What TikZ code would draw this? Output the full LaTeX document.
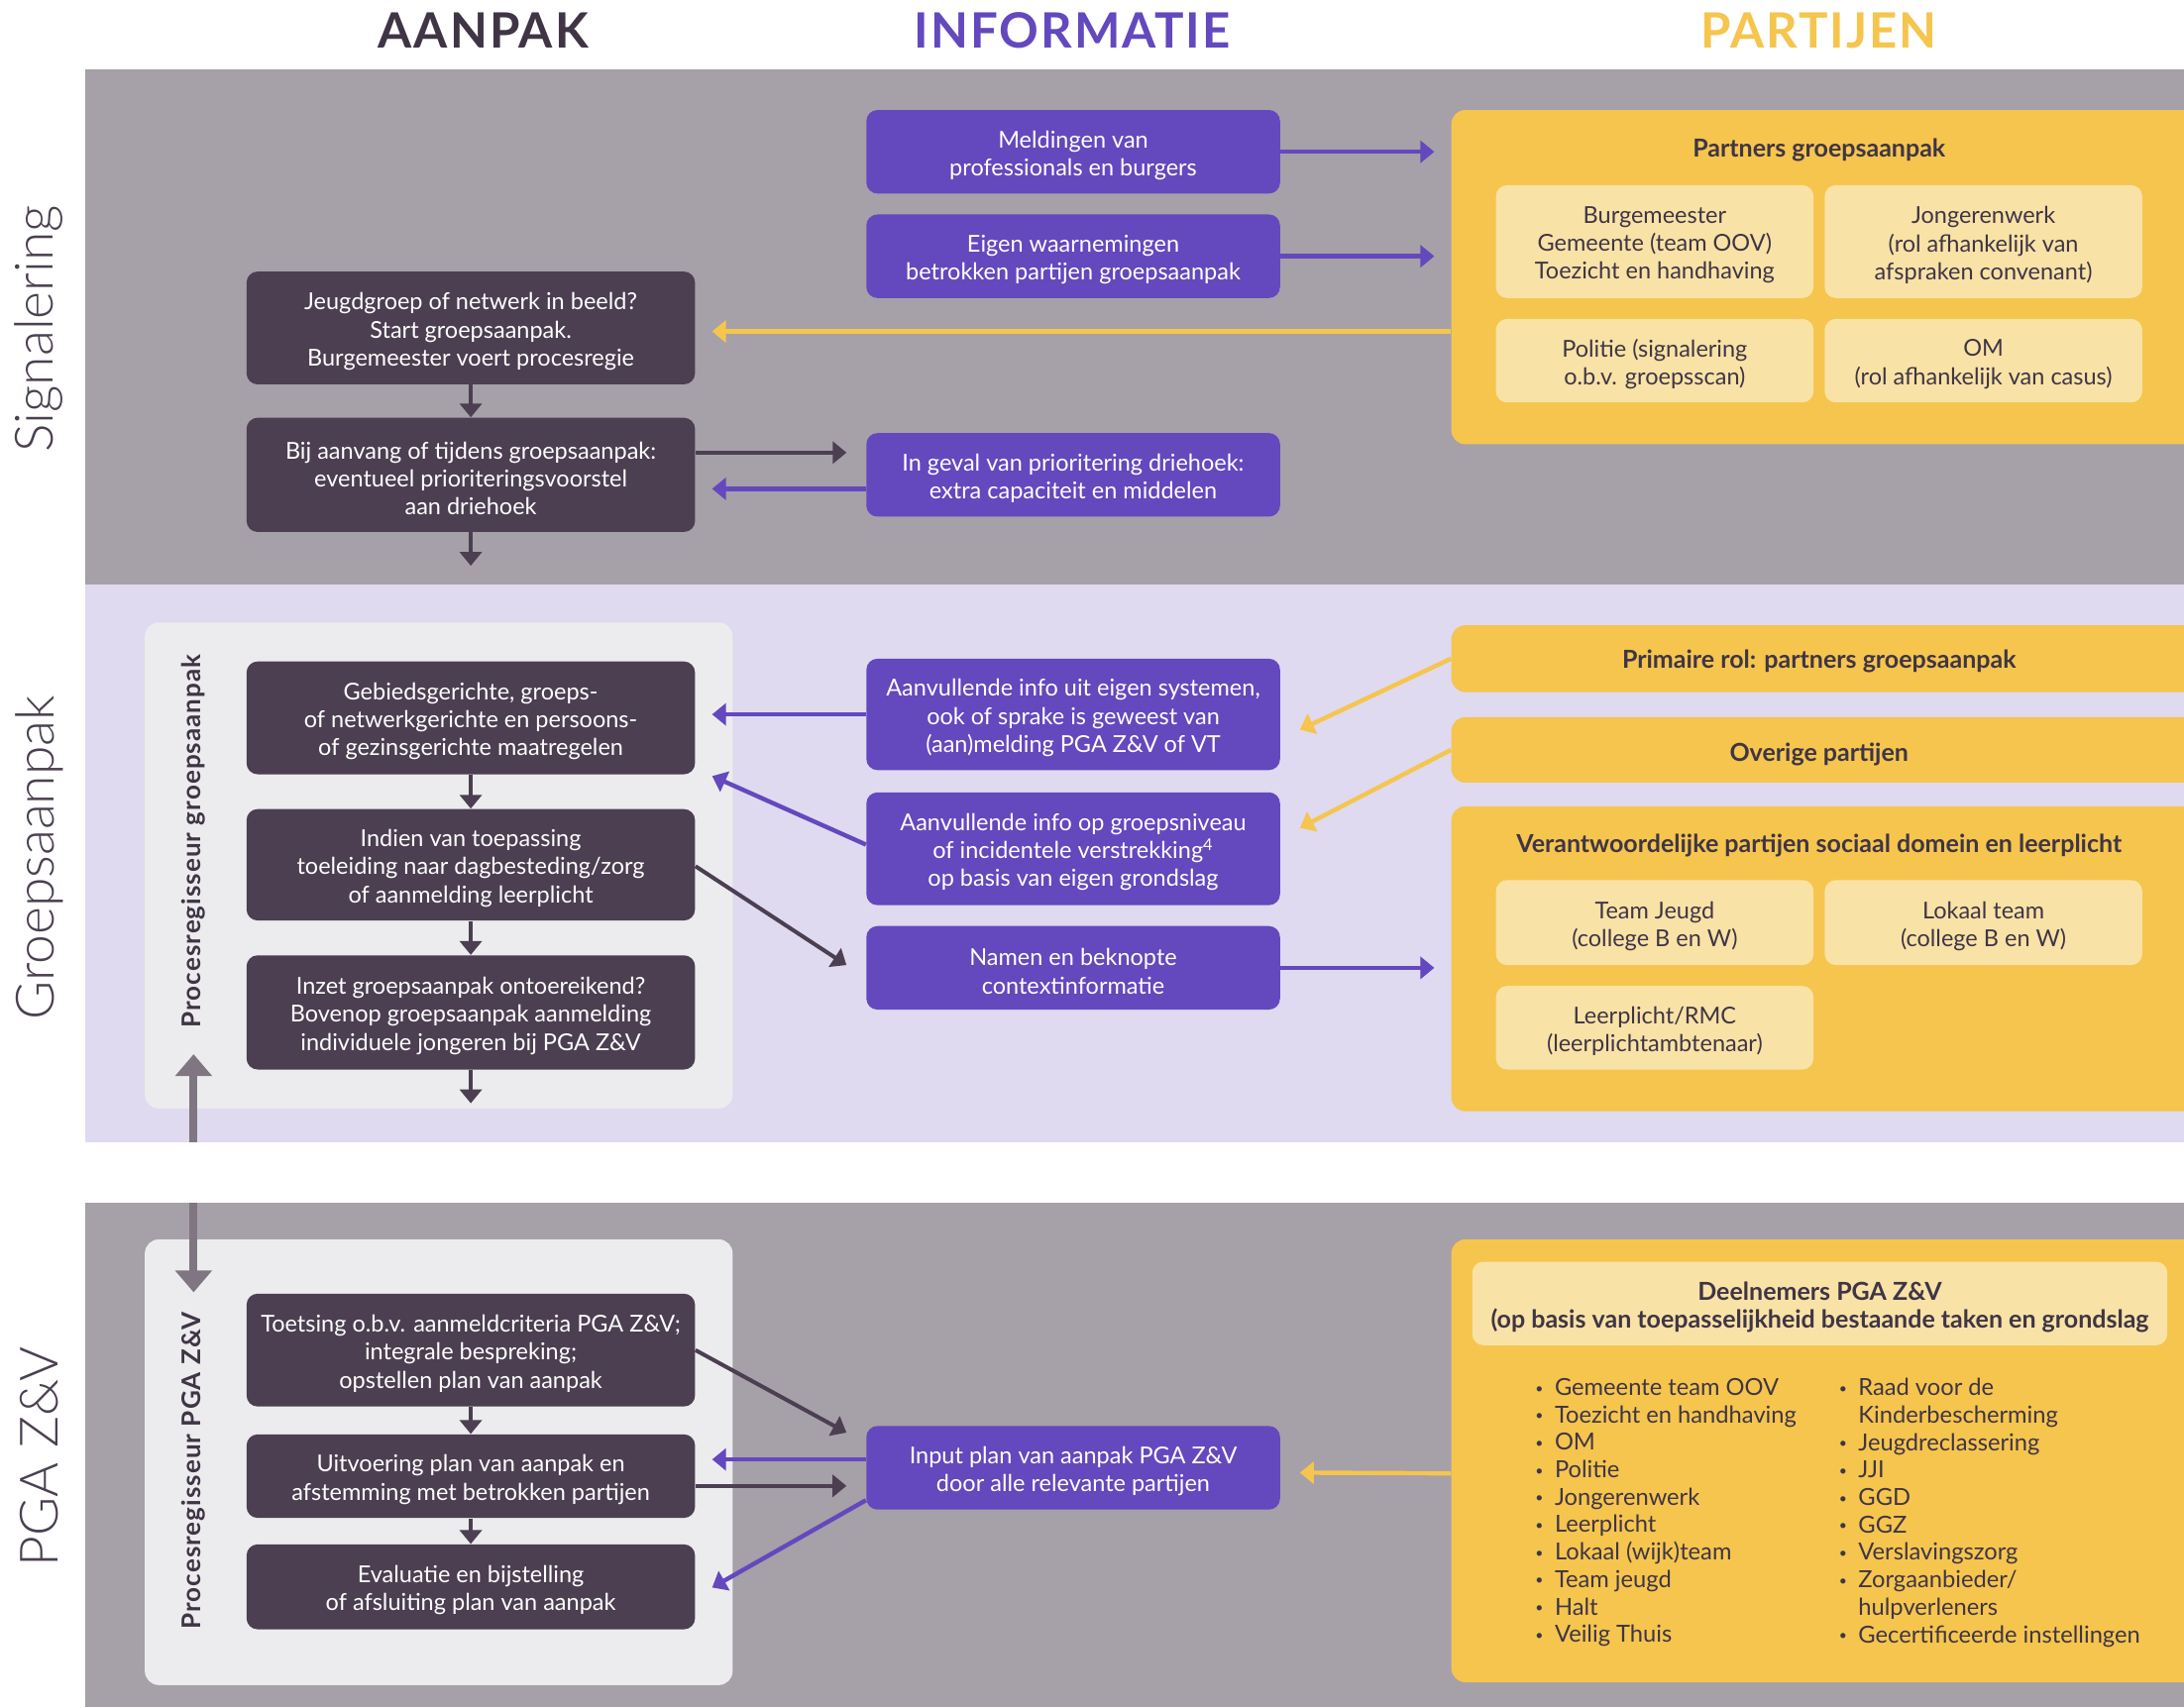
\documentclass[tikz,border=0pt]{standalone}
\usepackage{fontspec}
\setmainfont{Lato}
\newfontfamily\hdrfont[LetterSpace=4]{Lato}
\newfontfamily\sidefont{Lato Light}
\newfontfamily\procfont[LetterSpace=4]{Lato}
\usetikzlibrary{arrows.meta,calc}
\definecolor{darktxt}{HTML}{3F3545}
\definecolor{sidetxt}{HTML}{4A4050}
\definecolor{darkbox}{HTML}{4B3F51}
\definecolor{purp}{HTML}{6448BE}
\definecolor{yel}{HTML}{F5C54E}
\definecolor{lyel}{HTML}{F9E2A6}
\definecolor{bandgrey}{HTML}{A6A0A8}
\definecolor{lav}{HTML}{DFDAF0}
\definecolor{contgrey}{HTML}{ECECEE}
\definecolor{garrow}{HTML}{7F7682}
\newcommand\bxfont{\fontsize{11.75pt}{14.06pt}\selectfont}
\newcommand\titfont{\fontsize{12.5pt}{14.06pt}\selectfont\bfseries}
\newcommand\mybox[7]{\node[#1, minimum width={(#5-#3)*0.7028pt}, minimum height={(#6-#4)*0.7028pt}] (#2) at ({(#3+#5)/2},{(#4+#6)/2}) {};
 \node[#1, fill=none, minimum width=0pt, minimum height=0pt] (#2t) at ({(#3+#5)/2},{(#4+#6)/2+2.5}) {#7};}
\newcommand\bl{\makebox[9.8pt][l]{\raisebox{1.2pt}{\fontsize{7pt}{7pt}\selectfont\textbullet}}}
\begin{document}
\begin{tikzpicture}[x=0.7028pt,y=-0.7028pt,
 dbox/.style={fill=darkbox,text=white,rounded corners=5.6pt,inner sep=0pt,align=center,font=\bxfont},
 pbox/.style={fill=purp,text=white,rounded corners=5.6pt,inner sep=0pt,align=center,font=\bxfont},
 ypanel/.style={fill=yel,rounded corners=7pt,inner sep=0pt},
 lybox/.style={fill=lyel,text=darktxt,rounded corners=5.6pt,inner sep=0pt,align=center,font=\bxfont},
 ltbox/.style={fill=lyel,text=darktxt,rounded corners=5.6pt,inner sep=0pt,align=center,font=\titfont},
 ytitle/.style={text=darktxt,font=\titfont,inner sep=0pt,align=center},
 cbox/.style={fill=contgrey,rounded corners=7pt,inner sep=0pt},
 darr/.style={draw=darkbox,line width=2pt,-{Triangle[length=7pt,width=11pt]}},
 parr/.style={draw=purp,line width=2.2pt,-{Triangle[length=7pt,width=11pt]}},
 yarr/.style={draw=yel,line width=2.2pt,-{Triangle[length=7pt,width=11pt]}},
 garr/.style={draw=garrow,line width=4pt,-{Triangle[length=11pt,width=18pt]}},
 hdr/.style={font=\hdrfont\bfseries\fontsize{24.6pt}{28pt}\selectfont,inner sep=0pt},
 side/.style={font=\sidefont\fontsize{26.7pt}{30pt}\selectfont,text=sidetxt,rotate=90,inner sep=0pt},
 proc/.style={font=\procfont\bfseries\fontsize{13pt}{14pt}\selectfont,text=darktxt,rotate=90,inner sep=0pt},
 blist/.style={font=\fontsize{11.85pt}{13.85pt}\selectfont,text=darktxt,align=left,inner sep=0pt,anchor=north west},
]
\useasboundingbox (0,0) rectangle (1568,1225.8);
% bands
\fill[bandgrey] (61,50) rectangle (1568,420);
\fill[lav] (61,420) rectangle (1568,820);
\fill[bandgrey] (61,864) rectangle (1568,1226);
% headers
\node[hdr,text=darktxt] (hA) at (347,22) {AANPAK};
\node[hdr,text=purp] (hI) at (770,22) {INFORMATIE};
\node[hdr,text=yel] (hP) at (1306,22) {PARTIJEN};
% side labels
\node[side] (sS) at (28,236) {Signalering};
\node[side] (sG) at (28,616) {Groepsaanpak};
\node[side] (sP) at (28,1046) {PGA Z\&V};

% ===== Signalering =====
\mybox{pbox}{P1}{622}{79}{919}{139}{Meldingen van\\professionals en burgers}
\mybox{pbox}{P2}{622}{154}{919}{214}{Eigen waarnemingen\\betrokken partijen groepsaanpak}
\mybox{pbox}{P3}{622}{311}{919}{371}{In geval van prioritering driehoek:\\extra capaciteit en middelen}
\mybox{dbox}{D1}{177}{195}{499}{276}{Jeugdgroep of netwerk in beeld?\\Start groepsaanpak.\\Burgemeester voert procesregie}
\mybox{dbox}{D2}{177}{300}{499}{382}{Bij aanvang of tijdens groepsaanpak:\\eventueel prioriteringsvoorstel\\aan driehoek}
\mybox{ypanel}{Y1}{1042}{79}{1590}{319}{}
\node[ytitle] (Y1t) at (1306,107.5) {Partners groepsaanpak};
\mybox{lybox}{S1}{1074}{133}{1302}{214}{Burgemeester\\Gemeente (team OOV)\\Toezicht en handhaving}
\mybox{lybox}{S2}{1310}{133}{1538}{214}{Jongerenwerk\\(rol afhankelijk van\\afspraken convenant)}
\mybox{lybox}{S3}{1074}{229}{1302}{289}{Politie (signalering\\o.b.v. groepsscan)}
\mybox{lybox}{S4}{1310}{229}{1538}{289}{OM\\(rol afhankelijk van casus)}

\draw[parr, shorten >=8.4pt] (P1.east) -- (P1.east -| Y1.west);
\draw[parr, shorten >=8.4pt] (P2.east) -- (P2.east -| Y1.west);
\draw[yarr, shorten >=8.4pt] ($(Y1.west |- D1.east)+(0,2.5)$) -- ($(D1.east)+(0,2.5)$);
\draw[darr] (D1.south) -- (D2.north);
\draw[darr] (D2.south) -- ++(0,24);
\draw[darr, shorten >=9.8pt] ($(D2.east)+(0,-16)$) -- ($(P3.west)+(0,-16)$);
\draw[parr, shorten >=8.4pt] ($(P3.west)+(0,10)$) -- ($(D2.east)+(0,10)$);

% ===== Groepsaanpak =====
\mybox{cbox}{C1}{104}{447}{526}{796}{}
\node[proc] (C1t) at (139,604) {Procesregisseur groepsaanpak};
\mybox{dbox}{D3}{177}{475}{499}{556}{Gebiedsgerichte, groeps-\\of netwerkgerichte en persoons-\\of gezinsgerichte maatregelen}
\mybox{dbox}{D4}{177}{581}{499}{661}{Indien van toepassing\\toeleiding naar dagbesteding/zorg\\of aanmelding leerplicht}
\mybox{dbox}{D5}{177}{686}{499}{768}{Inzet groepsaanpak ontoereikend?\\Bovenop groepsaanpak aanmelding\\individuele jongeren bij PGA Z\&V}
\mybox{pbox}{P4}{622}{473}{919}{553}{Aanvullende info uit eigen systemen,\\ook of sprake is geweest van\\(aan)melding PGA Z\&V of VT}
\mybox{pbox}{P5}{622}{569}{919}{650}{Aanvullende info op groepsniveau\\of incidentele verstrekking\textsuperscript{4}\\op basis van eigen grondslag}
\mybox{pbox}{P6}{622}{665}{919}{725}{Namen en beknopte\\contextinformatie}
\mybox{ypanel}{Y2}{1042}{449}{1590}{497}{}
\node[ytitle] (Y2t) at (1306,475) {Primaire rol: partners groepsaanpak};
\mybox{ypanel}{Y3}{1042}{515}{1590}{562}{}
\node[ytitle] (Y3t) at (1306,541.5) {Overige partijen};
\mybox{ypanel}{Y4}{1042}{579}{1590}{798}{}
\node[ytitle] (Y4t) at (1306,607.5) {Verantwoordelijke partijen sociaal domein en leerplicht};
\mybox{lybox}{S5}{1074}{632}{1302}{693}{Team Jeugd\\(college B en W)}
\mybox{lybox}{S6}{1310}{632}{1538}{693}{Lokaal team\\(college B en W)}
\mybox{lybox}{S7}{1074}{708}{1302}{768}{Leerplicht/RMC\\(leerplichtambtenaar)}

\draw[darr] (D3.south) -- (D4.north);
\draw[darr] (D4.south) -- (D5.north);
\draw[darr] (D5.south) -- ++(0,24);
\draw[parr, shorten >=8.4pt] (P4.west) -- (P4.west -| D3.east);
\draw[parr] ($(P5.west)+(0,-3)$) -- ($(D3.south east)+(12,1)$);
\draw[darr] ($(D4.east)+(0,1)$) -- ($(P6.west)+(-14,-2)$);
\draw[parr, shorten >=8.4pt] (P6.east) -- (P6.east -| Y4.west);
\draw[yarr] (Y2.west) -- ($(P4.east)+(14,11)$);
\draw[yarr] (Y3.west) -- ($(P5.east)+(14,-15)$);

% ===== PGA Z&V =====
\mybox{cbox}{C2}{104}{890}{526}{1210}{}
\node[proc] (C2t) at (139,1056) {Procesregisseur PGA Z\&V};
\mybox{dbox}{D6}{177}{929}{499}{1010}{Toetsing o.b.v. aanmeldcriteria PGA Z\&V;\\integrale bespreking;\\opstellen plan van aanpak}
\mybox{dbox}{D7}{177}{1030}{499}{1090}{Uitvoering plan van aanpak en\\afstemming met betrokken partijen}
\mybox{dbox}{D8}{177}{1109}{499}{1170}{Evaluatie en bijstelling\\of afsluiting plan van aanpak}
\mybox{pbox}{P7}{622}{1024}{919}{1084}{Input plan van aanpak PGA Z\&V\\door alle relevante partijen}
\mybox{ypanel}{Y5}{1042}{890}{1590}{1208}{}
\mybox{ltbox}{S8}{1057}{906}{1556}{966}{Deelnemers PGA Z\&V\\(op basis van toepasselijkheid bestaande taken en grondslag}
\node[blist] (L1) at (1102,989.5) {\bl Gemeente team OOV\\\bl Toezicht en handhaving\\\bl OM\\\bl Politie\\\bl Jongerenwerk\\\bl Leerplicht\\\bl Lokaal (wijk)team\\\bl Team jeugd\\\bl Halt\\\bl Veilig Thuis};
\node[blist] (L2) at (1320,989.5) {\bl Raad voor de\\\hspace*{9.8pt}Kinderbescherming\\\bl Jeugdreclassering\\\bl JJI\\\bl GGD\\\bl GGZ\\\bl Verslavingszorg\\\bl Zorgaanbieder/\\\hspace*{9.8pt}hulpverleners\\\bl Gecertificeerde instellingen};

\draw[darr] (D6.south) -- (D7.north);
\draw[darr] (D7.south) -- (D8.north);
\draw[darr] (D6.east) -- ($(P7.north west)+(-14,5)$);
\draw[parr] ($(P7.west)+(0,-6)$) -- ($(D7.east)+(12,-12)$);
\draw[darr] ($(D7.east)+(0,7)$) -- ($(P7.west)+(-14,13)$);
\draw[parr] ($(P7.south west)+(0,-7)$) -- ($(D8.east)+(12,0.5)$);
\draw[yarr] ($(Y5.west)+(0,9)$) -- ($(P7.east)+(14,3.5)$);

% grey connector between bands (drawn on top)
\coordinate (gup0) at (139,820);
\coordinate (gup1) at (139,757);
\coordinate (gdn0) at (139,864);
\coordinate (gdn1) at (139,928);
\draw[garr] (gup0) -- (gup1);
\draw[garr] (gdn0) -- (gdn1);
\end{tikzpicture}
\end{document}
